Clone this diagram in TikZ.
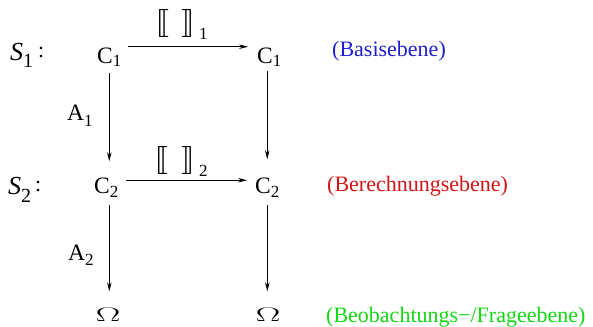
\documentclass[tikz,border=0pt]{standalone}
\usepackage{fontspec}
\setmainfont{Liberation Serif}
\usepackage{stmaryrd}
\usetikzlibrary{arrows.meta}
\definecolor{lvblue}{RGB}{30,30,210}
\definecolor{lvred}{RGB}{210,20,20}
\definecolor{lvgreen}{RGB}{20,215,20}
\newcommand\lsub[2]{\raisebox{-#1}{\fontsize{17}{17}\selectfont #2}}
\newcommand\lbr{\resizebox*{14pt}{28pt}{$\llbracket$}}
\newcommand\rbr{\resizebox*{14pt}{28pt}{$\rrbracket$}}
\begin{document}
\begin{tikzpicture}[x=1pt,y=-1pt,
  txt/.style={inner sep=0pt,anchor=base west,font=\fontsize{22}{22}\selectfont},
  big/.style={txt,font=\fontsize{23.5}{23.5}\selectfont},
  arr/.style={line width=0.7pt,-{Stealth[length=9pt,width=4.5pt]}},
  lvl/.style={txt}]
\useasboundingbox (0,0) rectangle (593,326);
% row labels
\node[txt] (s1) at (10,61) {{\fontsize{26}{26}\selectfont\textit{S}}\raisebox{-7pt}{\fontsize{20}{20}\selectfont 1}\hspace{5pt}\raisebox{3pt}{:}};
\node[txt] (s2) at (8,194) {{\fontsize{26}{26}\selectfont\textit{S}}\raisebox{-8pt}{\fontsize{20}{20}\selectfont 2}\hspace{4pt}\raisebox{3pt}{:}};
% C nodes
\node[big] (c11) at (97,64) {C\lsub{3pt}{1}};
\node[big] (c12) at (257,64) {C\lsub{3pt}{1}};
\node[big] (c21) at (94,193) {C\lsub{4pt}{2}};
\node[big] (c22) at (255,193) {C\lsub{4pt}{2}};
% bottom
\node[txt,anchor=base] (o1) at (108,321) {\scalebox{1.8}[0.95]{$\Omega$}};
\node[txt,anchor=base] (o2) at (268,321) {\scalebox{1.8}[0.95]{$\Omega$}};
% semantic brackets
\node[txt] (l1) at (155,31) {\lbr\hspace{12pt}\rbr\hspace{4pt}\lsub{9pt}{1}};
\node[txt] (l2) at (154,167) {\lbr\hspace{13pt}\rbr\hspace{4pt}\lsub{9pt}{2}};
% A labels
\node[big] (a1) at (67,120) {A\lsub{6pt}{1}};
\node[big] (a2) at (68,260) {A\lsub{5pt}{2}};
% level names
\node[lvl,text=lvblue] (b1) at (332,57) {(Basisebene)};
\node[lvl,text=lvred] (b2) at (327,191) {(Berechnungsebene)};
\node[lvl,text=lvgreen] (b3) at (326,322) {(Beobachtungs−/Frageebene)};
% arrows
\draw[arr,shorten <=6pt,shorten >=9pt] ([yshift=11pt]c11.east) -- ([yshift=11pt]c12.west);
\draw[arr,shorten <=7pt,shorten >=8pt] ([yshift=7pt]c21.east) -- ([yshift=7pt]c22.west);
\draw[arr,shorten <=6pt,shorten >=16pt] (c11.south) -- (c21.north -| c11.south);
\draw[arr,shorten <=4pt,shorten >=18pt] ([xshift=-2pt]c12.south) -- ([xshift=-2pt]c12.south |- c22.north);
\draw[arr,shorten <=8pt,shorten >=16pt] (c21.south -| c11.south) -- (o1.north -| c11.south);
\draw[arr,shorten <=8pt,shorten >=16pt] (c22.south) -- (o2.north -| c22.south);
\end{tikzpicture}
\end{document}
